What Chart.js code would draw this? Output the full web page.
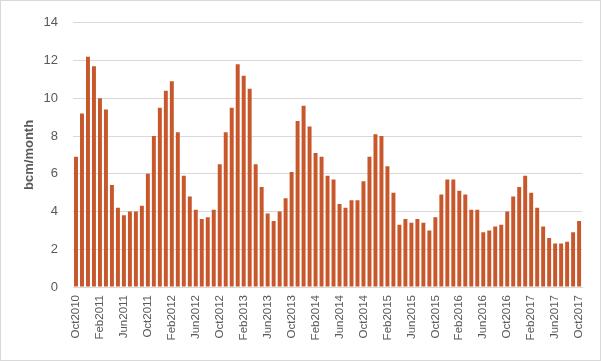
<!DOCTYPE html>
<html>
<head>
<meta charset="utf-8">
<script src="https://cdn.jsdelivr.net/npm/chart.js@4.4.1/dist/chart.umd.min.js"></script>
<style>
  html, body { margin: 0; padding: 0; background: #fff; }
  #wrap { position: relative; width: 601px; height: 361px; box-sizing: border-box; border: 1px solid #d9d9d9; }
  canvas { position: absolute; left: -1px; top: -1px; }
</style>
</head>
<body>
<div id="wrap"><canvas id="c" width="601" height="361"></canvas></div>
<script>
const months = ['Jan','Feb','Mar','Apr','May','Jun','Jul','Aug','Sep','Oct','Nov','Dec'];
const categories = [];
for (let y = 2010, m = 9; y < 2017 || (y === 2017 && m <= 9); ) {
  categories.push(months[m] + y);
  m++; if (m === 12) { m = 0; y++; }
}
const values = [
  6.9, 9.2, 12.2, 11.7, 10.0, 9.4, 5.4, 4.2, 3.8, 4.0, 4.0, 4.3,
  6.0, 8.0, 9.5, 10.4, 10.9, 8.2, 5.9, 4.8, 4.1, 3.6, 3.7, 4.1,
  6.5, 8.2, 9.5, 11.8, 11.2, 10.5, 6.5, 5.3, 3.9, 3.5, 4.0, 4.7,
  6.1, 8.8, 9.6, 8.5, 7.1, 6.9, 5.9, 5.7, 4.4, 4.2, 4.6, 4.6,
  5.6, 6.9, 8.1, 8.0, 6.4, 5.0, 3.3, 3.6, 3.4, 3.6, 3.4, 3.0,
  3.7, 4.9, 5.7, 5.7, 5.1, 4.9, 4.1, 4.1, 2.9, 3.0, 3.2, 3.3,
  4.0, 4.8, 5.3, 5.9, 5.0, 4.2, 3.2, 2.6, 2.3, 2.3, 2.4, 2.9,
  3.5
];
const yTicks = [0, 2, 4, 6, 8, 10, 12, 14];

new Chart(document.getElementById('c'), {
  type: 'bar',
  data: {
    labels: categories,
    datasets: [{
      data: values,
      backgroundColor: '#C8582B',
      barPercentage: 0.66,
      categoryPercentage: 1.0
    }]
  },
  options: {
    responsive: false,
    animation: false,
    devicePixelRatio: 1,
    layout: { padding: { left: 0, right: 18, top: 18, bottom: 0 } },
    plugins: { legend: { display: false }, tooltip: { enabled: false } },
    scales: {
      x: {
        grid: { display: false, drawTicks: false },
        border: { display: true, color: '#d9d9d9' },
        ticks: {
          autoSkip: false,
          minRotation: 90,
          maxRotation: 90,
          padding: 8,
          color: '#595959',
          font: { family: "'Liberation Sans', Arial, sans-serif", size: 11.5 },
          callback: function(v, i) { return i % 4 === 0 ? categories[i] : ''; }
        },
        afterFit: function(s) { s.height = 74; }
      },
      y: {
        min: 0,
        max: 14,
        afterBuildTicks: function(s) { s.ticks = yTicks.map(v => ({ value: v })); },
        grid: { color: '#d9d9d9', drawTicks: false },
        border: { display: false },
        ticks: {
          padding: 15,
          color: '#595959',
          font: { family: "'Liberation Sans', Arial, sans-serif", size: 13 }
        },
        title: {
          display: true,
          text: 'bcm/month',
          color: '#595959',
          padding: { top: 22, bottom: 0 },
          font: { family: "'Liberation Sans', Arial, sans-serif", size: 13, weight: 'bold' }
        },
        afterFit: function(s) { s.width = 73; }
      }
    }
  }
});
</script>
</body>
</html>
